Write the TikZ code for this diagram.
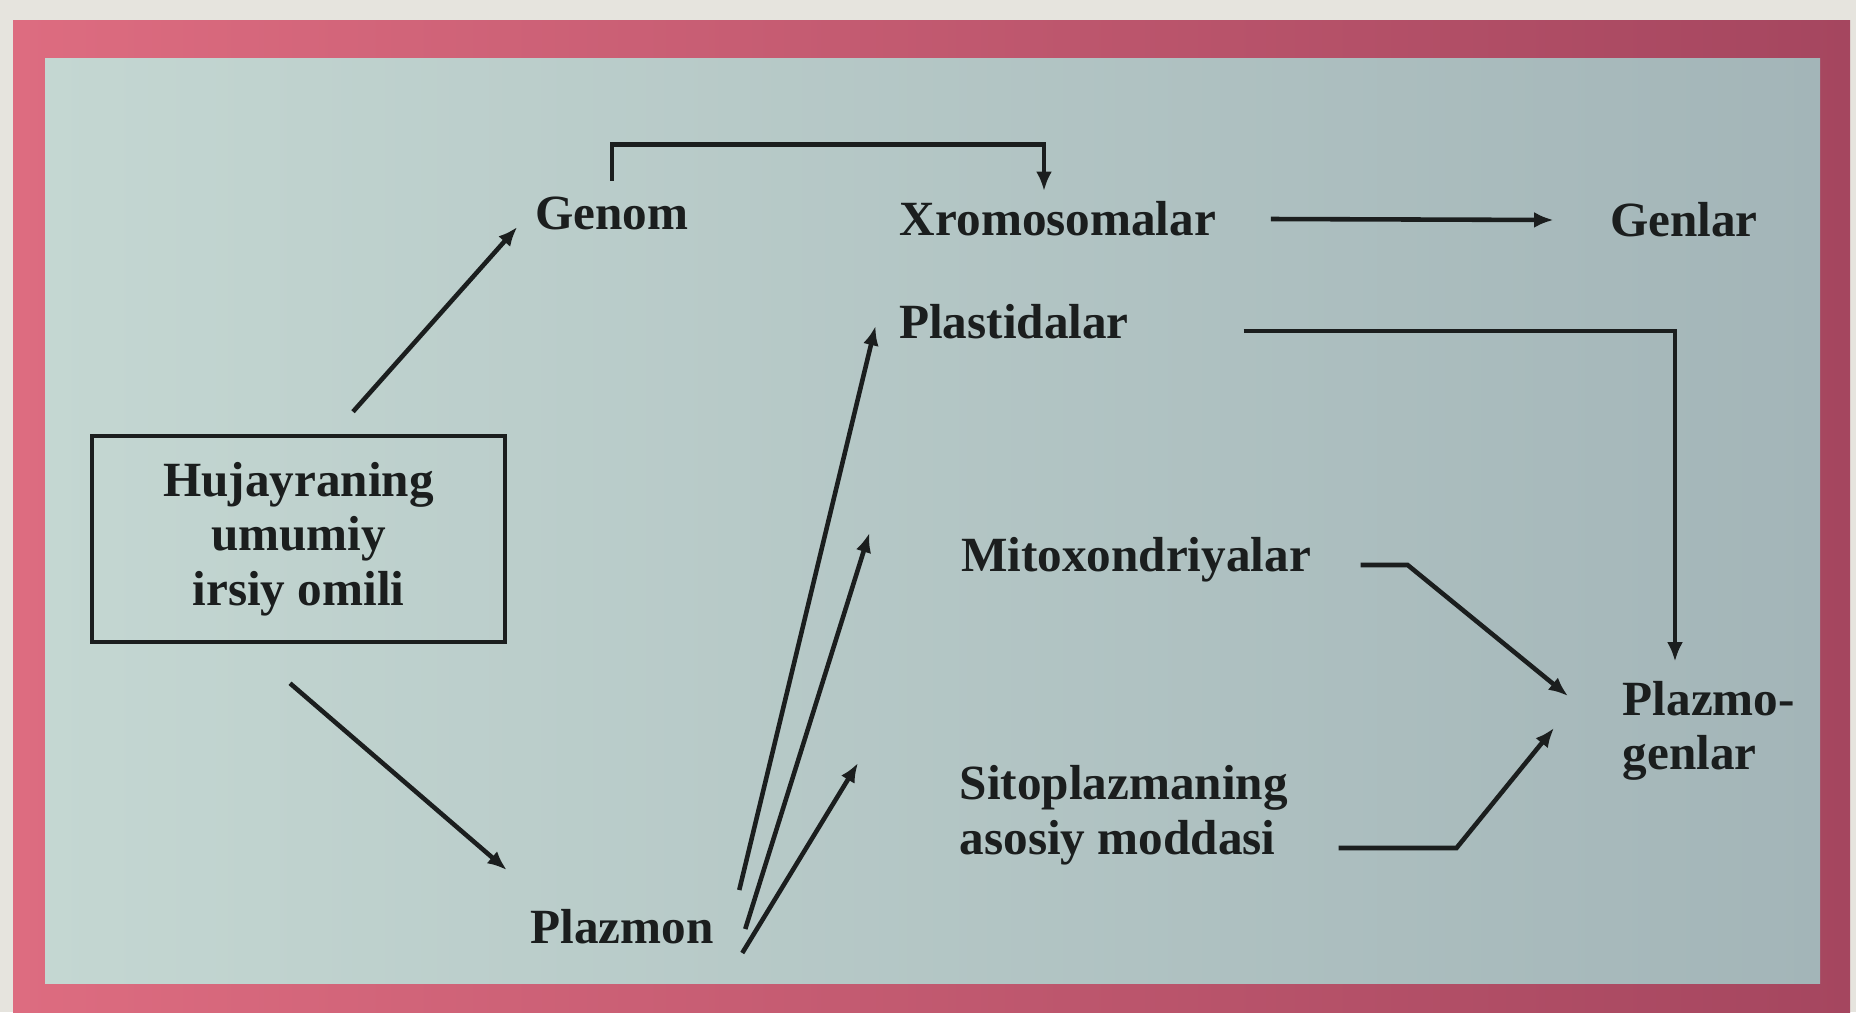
\documentclass[tikz,border=0pt]{standalone}
\usepackage{fontspec}
\setmainfont{Liberation Serif}
\usepackage{xcolor}
\usetikzlibrary{arrows.meta}
\definecolor{pp}{HTML}{e6e4de}
\definecolor{pkl}{HTML}{dd6c80}
\definecolor{pkr}{HTML}{a5465f}
\definecolor{bgl}{HTML}{c4d7d2}
\definecolor{bgr}{HTML}{a3b5b8}
\definecolor{ink}{HTML}{1b1e1e}

\begin{document}
\begin{tikzpicture}[x=1cm,y=1cm,
  lbl/.style={ink,font=\fontsize{14}{15.5}\selectfont\bfseries,inner sep=0pt},
  arr/.style={ink,line width=1.3pt,-{Latex[length=5.5pt,width=4.5pt]}}]
  \useasboundingbox (0,0) rectangle (18.56,10.12);
  \fill[pp] (0,0) rectangle (18.56,10.12);

  % Pink frame and the page inside it
  \shade[left color=pkl,right color=pkr] (0.13,0) rectangle (18.50,9.92);
  \shade[left color=bgl,right color=bgr] (0.45,0.29) rectangle (18.20,9.54);

  % Terms of the scheme
  \node[lbl,draw,line width=1.3pt,minimum width=4.13cm,minimum height=2.06cm,align=center] (omil) at (2.985,4.73) {Hujayraning\\umumiy\\irsiy omili};
  \node[lbl] (genom) at (6.12,7.99) {Genom};
  \node[lbl] (xromo) at (10.58,7.93) {Xromosomalar};
  \node[lbl] (genlar) at (16.84,7.92) {Genlar};
  \node[lbl] (plast) at (10.14,6.90) {Plastidalar};
  \node[lbl] (mito) at (11.36,4.52) {Mitoxondriyalar};
  \node[lbl,anchor=west,align=left] (sito) at (9.59,1.97) {Sitoplazmaning\\asosiy moddasi};
  \node[lbl,anchor=west,align=left] (plazmogen) at (16.22,2.81) {Plazmo-\\genlar};
  \node[lbl] (plazmon) at (6.22,0.85) {Plazmon};

  % Nuclear branch
  \draw[arr] ([shift={(0.545,0.22)}]omil.north) -- ([shift={(-0.175,-0.14)}]genom.west);
  \draw[arr] ([yshift=0.15cm]genom.north) -- ++(0,0.36) -| ([xshift=-0.14cm,yshift=0.10cm]xromo.north);
  \draw[arr] ([xshift=0.54cm]xromo.east) -- ([xshift=-0.56cm]genlar.west);

  % Cytoplasmic branch
  \draw[arr] ([shift={(-0.085,-0.39)}]omil.south) -- ([shift={(-0.23,0.57)}]plazmon.west);
  \foreach \tgt/\sx/\sy/\ex/\ey in {plast/0.25/0.37/-0.23/-0.04, mito/0.31/-0.02/-0.91/0.27, sito/0.28/-0.26/-1.01/0.52} {
    \draw[arr] ([shift={(\sx,\sy)}]plazmon.east) -- ([shift={(\ex,\ey)}]\tgt.west);
  }

  % Everything outside the nucleus joins in the plasmogenes
  \draw[arr] ([shift={(1.14,-0.09)}]plast.east) -| ([shift={(0.53,0.19)}]plazmogen.north west);
  \draw[arr] ([shift={(0.49,-0.05)}]mito.east) -- ++(0.47,0) -- ([shift={(-0.54,0.35)}]plazmogen.west);
  \draw[arr] ([shift={(0.50,-0.33)}]sito.east) -- ++(1.18,0) -- ([shift={(-0.68,0.03)}]plazmogen.west);
\end{tikzpicture}
\end{document}
